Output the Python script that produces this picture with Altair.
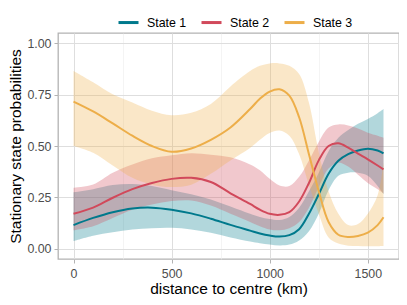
import altair as alt
import pandas as pd

distance = [0, 100, 200, 300, 400, 500, 600, 700, 800, 900, 950, 1000, 1050,
            1100, 1150, 1200, 1250, 1300, 1350, 1400, 1450, 1500, 1550, 1580]

s1_mean = [0.115, 0.150, 0.178, 0.196, 0.200, 0.190, 0.172, 0.146, 0.116, 0.088, 0.074, 0.064, 0.059,
           0.066, 0.095, 0.170, 0.265, 0.365, 0.428, 0.460, 0.478, 0.487, 0.478, 0.464]
s1_lo = [0.037, 0.063, 0.080, 0.093, 0.100, 0.102, 0.094, 0.078, 0.055, 0.035, 0.027, 0.021, 0.016,
         0.020, 0.040, 0.085, 0.170, 0.285, 0.355, 0.370, 0.370, 0.355, 0.305, 0.265]
s1_hi = [0.275, 0.290, 0.310, 0.315, 0.305, 0.285, 0.265, 0.240, 0.205, 0.170, 0.155, 0.145, 0.140,
         0.155, 0.200, 0.280, 0.370, 0.475, 0.540, 0.578, 0.608, 0.632, 0.660, 0.680]

s2_mean = [0.170, 0.200, 0.248, 0.290, 0.320, 0.340, 0.345, 0.325, 0.270, 0.218, 0.190, 0.170, 0.165,
           0.178, 0.230, 0.320, 0.430, 0.500, 0.513, 0.492, 0.463, 0.435, 0.405, 0.386]
s2_lo = [0.090, 0.110, 0.150, 0.190, 0.215, 0.232, 0.235, 0.210, 0.170, 0.130, 0.110, 0.094, 0.090,
         0.100, 0.130, 0.200, 0.300, 0.390, 0.420, 0.400, 0.360, 0.320, 0.290, 0.270]
s2_hi = [0.297, 0.313, 0.370, 0.410, 0.440, 0.455, 0.465, 0.458, 0.445, 0.410, 0.382, 0.340, 0.308,
         0.305, 0.350, 0.430, 0.520, 0.590, 0.605, 0.600, 0.585, 0.565, 0.550, 0.540]

s3_mean = [0.716, 0.668, 0.610, 0.550, 0.500, 0.472, 0.488, 0.530, 0.590, 0.680, 0.730, 0.765, 0.776,
           0.745, 0.640, 0.460, 0.280, 0.130, 0.068, 0.057, 0.062, 0.078, 0.115, 0.153]
s3_lo = [0.500, 0.467, 0.405, 0.345, 0.312, 0.300, 0.312, 0.365, 0.430, 0.490, 0.530, 0.563, 0.575,
         0.550, 0.460, 0.310, 0.170, 0.055, 0.025, 0.015, 0.013, 0.012, 0.012, 0.013]
s3_hi = [0.865, 0.810, 0.752, 0.712, 0.672, 0.650, 0.662, 0.705, 0.790, 0.865, 0.890, 0.902, 0.902,
         0.890, 0.850, 0.710, 0.470, 0.280, 0.170, 0.115, 0.120, 0.170, 0.260, 0.420]

states = ["State 1", "State 2", "State 3"]
colors = ["#00798c", "#d1495b", "#edae49"]

x_ticks = [0, 250, 500, 750, 1000, 1250, 1500]
y_ticks = [0, 0.125, 0.25, 0.375, 0.5, 0.625, 0.75, 0.875, 1.0]

rows = []
for st, m, lo, hi in zip(states, [s1_mean, s2_mean, s3_mean],
                         [s1_lo, s2_lo, s3_lo], [s1_hi, s2_hi, s3_hi]):
    for xi, mi, li, hi_ in zip(distance, m, lo, hi):
        rows.append({"state": st, "band": st, "distance": xi, "mean": mi, "lo": li, "hi": hi_})
df = pd.DataFrame(rows)

FONT = "Liberation Sans"
grid_major = "#DEDEDE"
grid_minor = "#EDEDED"

x_minor = "datum.value % 500 !== 0"
y_minor = "abs(datum.value*4 - round(datum.value*4)) > 0.01"

x_axis = alt.Axis(
    values=x_ticks,
    labelExpr=f"{x_minor} ? '' : datum.label",
    format="d",
    gridColor={"condition": {"test": x_minor, "value": grid_minor}, "value": grid_major},
    gridWidth={"condition": {"test": x_minor, "value": 0.6}, "value": 1},
    tickColor={"condition": {"test": x_minor, "value": "transparent"}, "value": "#B3B3B3"},
    tickSize=4, labelPadding=4, domain=False,
    labelFont=FONT, labelFontSize=12.4, labelColor="#4D4D4D",
    titleFont=FONT, titleFontSize=15.5, titleFontWeight="normal", titleColor="#000000",
    titlePadding=2,
)
y_axis = alt.Axis(
    values=y_ticks,
    labelExpr=f"{y_minor} ? '' : datum.label",
    format=".2f",
    gridColor={"condition": {"test": y_minor, "value": grid_minor}, "value": grid_major},
    gridWidth={"condition": {"test": y_minor, "value": 0.6}, "value": 1},
    tickColor={"condition": {"test": y_minor, "value": "transparent"}, "value": "#B3B3B3"},
    tickSize=4, labelPadding=3, domain=False,
    labelFont=FONT, labelFontSize=12.4, labelColor="#4D4D4D",
    titleFont=FONT, titleFontSize=15.5, titleFontWeight="normal", titleColor="#000000",
    titlePadding=3,
)

xs = alt.Scale(domain=[-79, 1659], nice=False, zero=False)
ys = alt.Scale(domain=[-0.05, 1.05], nice=False, zero=False)

base = alt.Chart(df)

bands = base.mark_area(opacity=0.3, interpolate="catmull-rom").encode(
    x=alt.X("distance:Q", scale=xs, axis=x_axis, title="distance to centre (km)"),
    y=alt.Y("lo:Q", scale=ys, axis=y_axis, title="Stationary state probabilities"),
    y2="hi:Q",
    fill=alt.Fill("band:N", scale=alt.Scale(domain=states, range=colors), legend=None),
    detail="band:N",
)

lines = base.mark_line(strokeWidth=2, interpolate="catmull-rom").encode(
    x="distance:Q",
    y="mean:Q",
    stroke=alt.Stroke(
        "state:N",
        scale=alt.Scale(domain=states, range=colors),
        legend=alt.Legend(
            orient="none", legendX=59, legendY=-22, direction="horizontal", title=None,
            symbolType="stroke", symbolSize=400, symbolStrokeWidth=3,
            labelFont=FONT, labelFontSize=12.4, labelColor="#000000",
            labelOffset=7, columnPadding=8,
        ),
    ),
)

chart = alt.layer(bands, lines).resolve_scale(fill="independent", stroke="independent").properties(
    width=341, height=226,
    autosize=alt.AutoSizeParams(type="none"),
    padding={"left": 50, "top": 25, "right": 0, "bottom": 38},
).configure_view(
    stroke="#B3B3B3", strokeWidth=1.3
)

chart.save("out.html", embed_options={"renderer": "svg", "actions": False})
